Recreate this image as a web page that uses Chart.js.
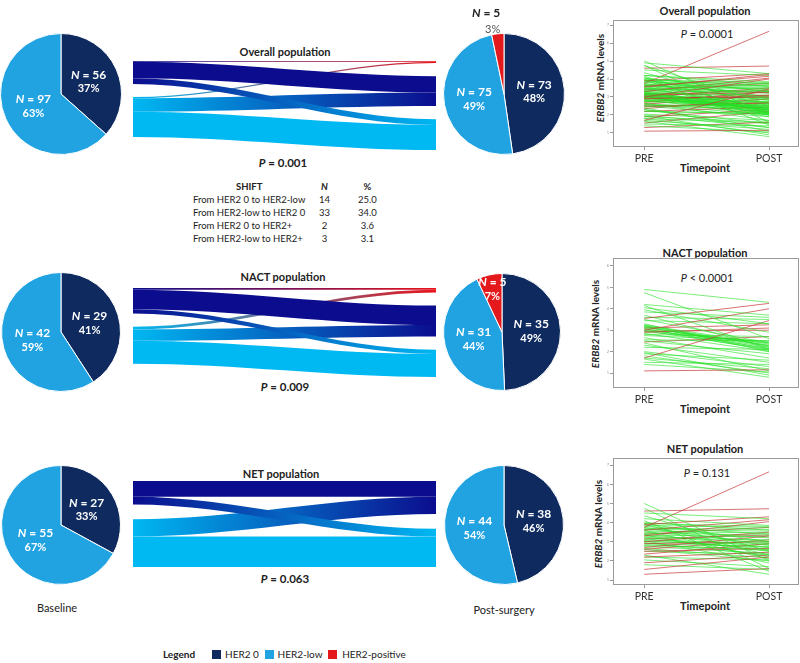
<!DOCTYPE html>
<html>
<head>
<meta charset="utf-8">
<script src="https://cdn.jsdelivr.net/npm/chart.js@4.4.1/dist/chart.umd.min.js"></script>
<style>
  body { margin: 0; width: 800px; height: 663px; position: relative; background: #fff; overflow: hidden;
         font-family: Lato, "Open Sans", sans-serif; color: #222; }
  canvas { position: absolute; }
  .t { position: absolute; white-space: nowrap; transform: translate(-50%, -50%); }
  .b { font-weight: bold; }
  .ylab { position: absolute; white-space: nowrap; font-weight: bold; font-size: 10px;
          transform: translate(-50%, -50%) rotate(-90deg); }
  .sq { position: absolute; width: 9px; height: 9px; }
  #shift { position: absolute; left: 190px; top: 180px; border-collapse: collapse; font-size: 9.5px; }
  #shift td, #shift th { padding: 0 0 0 3px; height: 13px; line-height: 13px; }
</style>
</head>
<body>

<!-- sankey titles and P values -->
<div class="t b" style="left:285px;top:51px;font-size:11px">Overall population</div>
<div class="t b" style="left:283px;top:162px;font-size:11.5px"><i>P</i> = 0.001</div>
<div class="t b" style="left:283px;top:276px;font-size:11px">NACT population</div>
<div class="t b" style="left:285px;top:386px;font-size:11.5px"><i>P</i> = 0.009</div>
<div class="t b" style="left:281px;top:473px;font-size:11px">NET population</div>
<div class="t b" style="left:285px;top:578px;font-size:11.5px"><i>P</i> = 0.063</div>

<table id="shift"></table>

<!-- right-hand plots text -->
<div class="t b" style="left:705px;top:10px;font-size:11px">Overall population</div>
<div class="t" style="left:707px;top:33px;font-size:11px"><i>P</i> = 0.0001</div>
<div class="ylab" style="left:600px;top:78px"><i>ERBB2</i> mRNA levels</div>
<div class="t b" style="left:705px;top:167px;font-size:11px">Timepoint</div>

<div class="t b" style="left:705px;top:252px;font-size:11px">NACT population</div>
<div class="t" style="left:707px;top:277px;font-size:11px"><i>P</i> &lt; 0.0001</div>
<div class="ylab" style="left:595px;top:324px"><i>ERBB2</i> mRNA levels</div>
<div class="t b" style="left:705px;top:408px;font-size:11px">Timepoint</div>

<div class="t b" style="left:705px;top:448px;font-size:11px">NET population</div>
<div class="t" style="left:707px;top:472px;font-size:11px"><i>P</i> = 0.131</div>
<div class="ylab" style="left:598px;top:524px"><i>ERBB2</i> mRNA levels</div>
<div class="t b" style="left:705px;top:605px;font-size:11px">Timepoint</div>

<div class="t" style="left:57px;top:607px;font-size:11px">Baseline</div>
<div class="t" style="left:504px;top:609px;font-size:11px">Post-surgery</div>

<!-- legend -->
<div class="t b" style="left:179px;top:654px;font-size:10px">Legend</div>
<div class="sq" style="left:212px;top:650px;background:#0e2a5f"></div>
<div class="t" style="left:242px;top:654px;font-size:10px">HER2 0</div>
<div class="sq" style="left:265px;top:650px;background:#21a3e2"></div>
<div class="t" style="left:300px;top:654px;font-size:10px">HER2-low</div>
<div class="sq" style="left:328px;top:650px;background:#e3191c"></div>
<div class="t" style="left:374px;top:654px;font-size:10px">HER2-positive</div>

<script>
// HER2 classes: 0 = HER2 0, 1 = HER2-low, 2 = HER2-positive
const her2Labels = ['HER2 0', 'HER2-low', 'HER2-positive'];

// pie counts (baseline / post-surgery)
const overallBaseN = [56, 97];
const overallPostN = [73, 75, 5];
const nactBaseN = [29, 42];
const nactPostN = [35, 31, 5];
const netBaseN = [27, 55];
const netPostN = [38, 44];

// shifts [from, to, n]
const overallFlows = [[0, 2, 2], [0, 0, 40], [0, 1, 14], [1, 2, 3], [1, 0, 33], [1, 1, 61]];
const nactFlows = [[0, 2, 2], [0, 0, 22], [0, 1, 5], [1, 2, 3], [1, 0, 13], [1, 1, 26]];
const netFlows = [[0, 0, 18], [0, 1, 9], [1, 0, 20], [1, 1, 35]];

// shift table
const shiftRows = ['From HER2 0 to HER2-low', 'From HER2-low to HER2 0', 'From HER2 0 to HER2+', 'From HER2-low to HER2+'];
const shiftN = [14, 33, 2, 3];
const shiftPct = [25.0, 34.0, 3.6, 3.1];

// ERBB2 mRNA levels, PRE and POST per patient
const nactPre = [4.9, 3.55, 4.75, 4.2, 4.15, 3.0, 4.05, 3.95, 3.85, 3.7, 1.7, 3.6, 3.5, 3.45, 3.3, 3.25,
  1.1, 3.2, 3.15, 2.9, 3.12, 3.05, 3.0, 2.98, 3.1, 2.92, 2.85, 2.8, 2.95, 2.75, 2.65, 2.55, 2.5, 2.45,
  2.4, 2.3, 2.2, 2.0, 1.95, 1.9, 1.8, 1.7, 1.65, 1.5, 1.4, 3.08, 3.18, 3.22];
const nactPost = [4.3, 4.25, 2.6, 3.7, 2.1, 4.0, 3.3, 2.9, 3.6, 2.2, 3.45, 3.5, 2.4, 3.3, 2.0, 2.35,
  1.15, 2.25, 2.2, 3.1, 2.3, 2.15, 2.4, 2.1, 3.25, 2.45, 2.0, 2.7, 3.0, 2.5, 1.7, 2.5, 1.9, 2.7,
  1.1, 1.5, 2.1, 1.3, 0.9, 1.6, 1.0, 1.2, 0.8, 1.4, 1.05, 2.05, 2.12, 2.28];
const netPre = [5.0, 3.75, 4.75, 4.6, 4.5, 4.35, 3.9, 4.2, 4.1, 3.6, 4.0, 3.95, 3.3, 3.9, 3.85, 1.55,
  3.8, 3.75, 1.3, 3.7, 3.65, 2.2, 3.6, 3.55, 3.0, 3.5, 3.45, 2.7, 3.4, 3.35, 2.5, 3.3, 3.25, 3.4, 3.2,
  3.15, 2.9, 3.1, 3.05, 2.35, 3.0, 2.95, 3.15, 2.9, 2.85, 2.6, 2.8, 2.75, 1.9, 2.6, 2.5, 2.3, 2.2,
  2.05, 1.8, 3.65, 3.35, 3.05, 2.65, 3.95];
const netPost = [2.0, 6.65, 1.6, 4.72, 4.2, 2.5, 4.3, 3.85, 1.45, 4.15, 3.6, 3.0, 4.05, 2.3, 3.75, 2.2,
  3.4, 2.8, 1.6, 3.65, 3.2, 2.45, 2.1, 3.45, 3.5, 3.0, 3.35, 3.3, 2.7, 3.25, 2.65, 2.95, 2.5, 3.75, 3.1,
  2.6, 3.0, 2.9, 1.9, 2.9, 2.85, 2.3, 3.35, 2.75, 2.55, 3.1, 2.6, 2.4, 2.3, 2.0, 2.35, 1.3, 2.05,
  1.7, 1.55, 3.55, 2.2, 2.7, 2.15, 3.8];

const pieColors = ['#0e2a5f', '#21a3e2', '#e3191c'];
const flowColors = ['#0b0d8e', '#00b8f2', '#e8141c'];
const FONT = 'Lato, "Open Sans", sans-serif';

Chart.defaults.font.family = FONT;
Chart.defaults.animation = false;
Chart.defaults.events = [];
Chart.defaults.plugins.legend.display = false;
Chart.defaults.plugins.tooltip.enabled = false;

function addCanvas(left, top, w, h) {
  const c = document.createElement('canvas');
  c.width = w; c.height = h;
  c.style.left = left + 'px'; c.style.top = top + 'px';
  c.style.width = w + 'px'; c.style.height = h + 'px';
  document.body.appendChild(c);
  return c;
}

// ---- pies ----
function drawN(ctx, x, y, n, color, align) {
  const f1 = 'italic bold 12px ' + FONT, f2 = 'bold 12px ' + FONT;
  const rest = ' = ' + n;
  ctx.font = f1; const w1 = ctx.measureText('N').width;
  ctx.font = f2; const w2 = ctx.measureText(rest).width;
  const sx = align === 'right' ? x - w1 - w2 : x - (w1 + w2) / 2;
  ctx.textAlign = 'left'; ctx.textBaseline = 'middle'; ctx.fillStyle = color;
  ctx.font = f1; ctx.fillText('N', sx, y);
  ctx.font = f2; ctx.fillText(rest, sx + w1, y);
}

const pieLabels = {
  id: 'pieLabels',
  afterDatasetsDraw(chart) {
    const ctx = chart.ctx;
    const data = chart.data.datasets[0].data;
    const total = data.reduce((a, b) => a + b, 0);
    ctx.save();
    chart.getDatasetMeta(0).data.forEach((arc, i) => {
      const n = data[i];
      const pct = Math.round(n / total * 100);
      const p = arc.getProps(['x', 'y', 'startAngle', 'endAngle', 'outerRadius'], true);
      const mid = (p.startAngle + p.endAngle) / 2;
      const f = pct < 5 ? 1.08 : (pct < 10 ? 0.75 : 0.5);
      const px = p.x + Math.cos(mid) * p.outerRadius * f;
      const py = p.y + Math.sin(mid) * p.outerRadius * f;
      if (pct < 5) {
        drawN(ctx, px + 3, py - 16, n, '#222', 'right');
        ctx.font = '11px ' + FONT; ctx.fillStyle = '#555';
        ctx.textAlign = 'right'; ctx.fillText(pct + '%', px + 3, py);
      } else {
        drawN(ctx, px, py - 7, n, '#fff');
        ctx.font = 'bold 11px ' + FONT; ctx.fillStyle = '#fff';
        ctx.textAlign = 'center'; ctx.fillText(pct + '%', px, py + 7);
      }
    });
    ctx.restore();
  }
};

function pie(cx, cy, r, counts) {
  const c = addCanvas(cx - r - 4, cy - r - 30, 2 * r + 8, 2 * r + 34);
  new Chart(c, {
    type: 'pie',
    data: {
      labels: her2Labels.slice(0, counts.length),
      datasets: [{ data: counts, backgroundColor: pieColors.slice(0, counts.length),
        borderColor: '#fff', borderWidth: 1, hoverOffset: 0 }]
    },
    options: { responsive: false, layout: { padding: { top: 30, bottom: 4, left: 4, right: 4 } } },
    plugins: [pieLabels]
  });
}

pie(61, 94, 61, overallBaseN);
pie(504, 94, 61, overallPostN);
pie(61, 332, 60, nactBaseN);
pie(502, 332, 59, nactPostN);
pie(61, 525, 60, netBaseN);
pie(504, 525, 60, netPostN);

// ---- sankey bands ----
const nodeOrder = [2, 0, 1]; // top to bottom: HER2-positive, HER2 0, HER2-low
const rank = [1, 2, 0];

function sankeyLayout(flows) {
  const total = flows.reduce((a, f) => a + f[2], 0);
  const gap = Math.round(total * 0.21);
  const inT = [0, 0, 0], outT = [0, 0, 0];
  flows.forEach(f => { outT[f[0]] += f[2]; inT[f[1]] += f[2]; });
  function place(tot) {
    const start = [0, 0, 0]; let cur = 0;
    nodeOrder.forEach(k => { if (tot[k] > 0) { start[k] = cur; cur += tot[k] + gap; } });
    return { start, end: cur - gap };
  }
  const L = place(outT), R = place(inT);
  const lc = L.start.slice(), rc = R.start.slice();
  const bands = [];
  flows.slice().sort((a, b) => rank[a[0]] - rank[b[0]] || rank[a[1]] - rank[b[1]])
    .forEach(f => { bands.push({ f, y0: lc[f[0]] }); lc[f[0]] += f[2]; });
  flows.slice().sort((a, b) => rank[a[1]] - rank[b[1]] || rank[a[0]] - rank[b[0]])
    .forEach(f => { bands.find(b => b.f === f).y1 = rc[f[1]]; rc[f[1]] += f[2]; });
  // sources lower in the stack are painted first
  bands.reverse();
  return { bands, extent: Math.max(L.end, R.end) };
}

function sankey(left, top, w, h, flows) {
  const lay = sankeyLayout(flows);
  const c = addCanvas(left, top, w, h);
  const bandPlugin = {
    id: 'bands',
    afterDraw(chart) {
      const ctx = chart.ctx, xs = chart.scales.x, ys = chart.scales.y;
      const x0 = xs.getPixelForValue(0), x1 = xs.getPixelForValue(1);
      const cx0 = x0 + (x1 - x0) * 0.35, cx1 = x1 - (x1 - x0) * 0.35;
      ctx.save();
      lay.bands.forEach(b => {
        const v = b.f[2];
        const a0 = ys.getPixelForValue(b.y0), a1 = ys.getPixelForValue(b.y0 + v);
        const b0 = ys.getPixelForValue(b.y1), b1 = ys.getPixelForValue(b.y1 + v);
        const g = ctx.createLinearGradient(x0, 0, x1, 0);
        g.addColorStop(0, flowColors[b.f[0]]);
        g.addColorStop(1, flowColors[b.f[1]]);
        ctx.fillStyle = g;
        ctx.beginPath();
        ctx.moveTo(x0, a0);
        ctx.bezierCurveTo(cx0, a0, cx1, b0, x1, b0);
        ctx.lineTo(x1, b1);
        ctx.bezierCurveTo(cx1, b1, cx0, a1, x0, a1);
        ctx.closePath();
        ctx.fill();
      });
      ctx.restore();
    }
  };
  new Chart(c, {
    type: 'scatter',
    data: { datasets: [] },
    options: {
      responsive: false,
      layout: { padding: 0 },
      scales: {
        x: { type: 'linear', display: false, min: 0, max: 1 },
        y: { type: 'linear', display: false, min: 0, max: lay.extent, reverse: true }
      }
    },
    plugins: [bandPlugin]
  });
}

sankey(133, 61, 303, 89, overallFlows);
sankey(133, 288, 303, 89, nactFlows);
sankey(133, 481, 303, 86, netFlows);

// ---- shift table ----
const tbl = document.getElementById('shift');
tbl.innerHTML = '<tr><th style="text-align:center">SHIFT</th><th style="width:32px;text-align:center"><i>N</i></th>' +
  '<th style="width:48px;text-align:center">%</th></tr>' +
  shiftRows.map((r, i) => '<tr><td>' + r + '</td><td style="text-align:center">' + shiftN[i] +
    '</td><td style="text-align:center">' + shiftPct[i].toFixed(1) + '</td></tr>').join('');

// ---- PRE / POST spaghetti plots ----
const boxPlugin = {
  id: 'box',
  afterDraw(chart) {
    const a = chart.chartArea, ctx = chart.ctx;
    ctx.save();
    ctx.strokeStyle = '#9a9a9a'; ctx.lineWidth = 1;
    ctx.strokeRect(a.left + 0.5, a.top + 0.5, a.right - a.left - 1, a.bottom - a.top - 1);
    ctx.restore();
  }
};

function spaghetti(top, h, pre, post, ymin, ymax, ytop) {
  const c = addCanvas(570, top, 230, h);
  const datasets = pre.map((v, i) => {
    const up = post[i] > v;
    return {
      data: [{ x: 0, y: v }, { x: 1, y: post[i] }],
      borderColor: up ? 'rgba(200,55,55,0.7)' : 'rgba(35,225,35,0.6)',
      borderWidth: 1, pointRadius: 0, showLine: true
    };
  });
  new Chart(c, {
    type: 'scatter',
    data: { datasets },
    options: {
      responsive: false,
      layout: { padding: { top: 20, right: 1 } },
      scales: {
        x: {
          type: 'linear', min: -0.25, max: 1.24,
          afterBuildTicks: s => { s.ticks = [{ value: 0 }, { value: 1 }]; },
          afterFit: s => { s.height = 33; },
          ticks: { callback: v => (v === 0 ? 'PRE' : v === 1 ? 'POST' : ''), color: '#333',
            font: { size: 10.5 }, padding: 2, maxRotation: 0 },
          grid: { drawOnChartArea: false, tickLength: 3, color: '#999' },
          border: { display: false }
        },
        y: {
          type: 'linear', min: ymin, max: ymax,
          afterBuildTicks: s => { const t = []; for (let k = 1; k <= ytop; k++) t.push({ value: k }); s.ticks = t; },
          afterFit: s => { s.width = 43; },
          ticks: { color: '#999', font: { size: 4 }, padding: 1 },
          grid: { drawOnChartArea: false, tickLength: 3, color: '#999' },
          border: { display: false }
        }
      }
    },
    plugins: [boxPlugin]
  });
}

spaghetti(0, 180, nactPre.concat(netPre), nactPost.concat(netPost), 0.22, 7.28, 7);
spaghetti(238, 183, nactPre, nactPost, 0.3, 6.37, 6);
spaghetti(438, 180, netPre, netPost, 0.74, 7.37, 7);
</script>
</body>
</html>
